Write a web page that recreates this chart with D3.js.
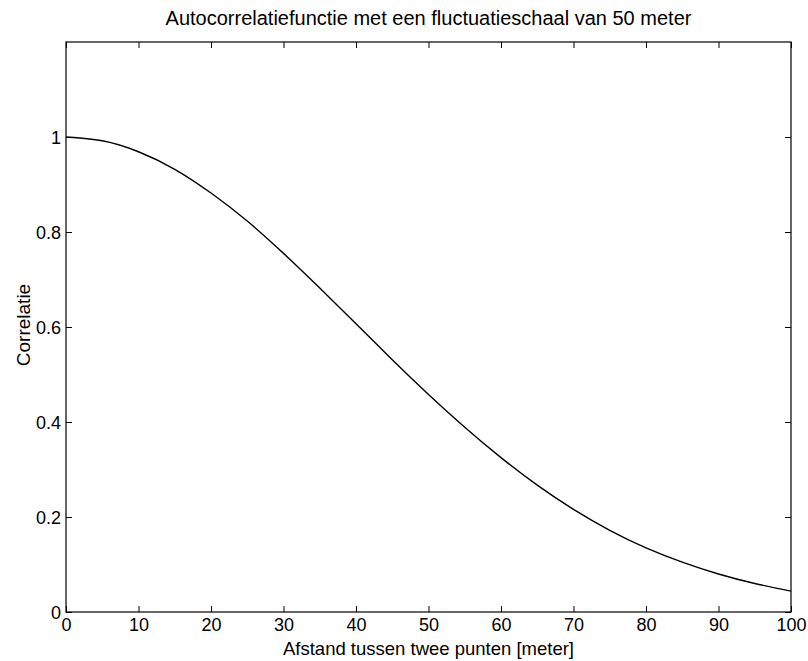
<!DOCTYPE html>
<html>
<head>
<meta charset="utf-8">
<script src="https://cdn.jsdelivr.net/npm/d3@7"></script>
<style>
  html, body { margin: 0; padding: 0; background: #fff; }
  text { font-family: "Liberation Sans", Arial, Helvetica, sans-serif; fill: #000; }
</style>
</head>
<body>
<svg id="chart" width="808" height="661"></svg>
<script>
// Distance between two points [m]
const distance = [0, 5, 10, 15, 20, 25, 30, 35, 40, 45, 50, 55, 60, 65, 70, 75, 80, 85, 90, 95, 100];
// Correlation at each distance
const correlation = [1.000, 0.992, 0.969, 0.932, 0.882, 0.823, 0.755, 0.682, 0.607, 0.531, 0.458,
                     0.389, 0.325, 0.267, 0.216, 0.172, 0.135, 0.105, 0.080, 0.060, 0.044];
const xTicks = [0, 10, 20, 30, 40, 50, 60, 70, 80, 90, 100];
const yTicks = [0, 0.2, 0.4, 0.6, 0.8, 1];

const titleText = "Autocorrelatiefunctie met een fluctuatieschaal van 50 meter";
const xLabel = "Afstand tussen twee punten [meter]";
const yLabel = "Correlatie";

const margin = { left: 66, right: 17, top: 42, bottom: 49 };
const W = 808, H = 661;
const svg = d3.select("#chart");
const iw = W - margin.left - margin.right;
const ih = H - margin.top - margin.bottom;

const x = d3.scaleLinear().domain([0, 100]).range([margin.left, margin.left + iw]);
const y = d3.scaleLinear().domain([0, 1.2]).range([margin.top + ih, margin.top]);

const tickLen = 6;
const tickFont = "18px";

// Bottom axis (ticks point inward)
const gB = svg.append("g").attr("transform", `translate(0,${margin.top + ih})`)
  .call(d3.axisBottom(x).tickValues(xTicks).tickSize(-tickLen).tickPadding(10).tickFormat(d3.format("d")));
// Top axis (ticks only)
const gT = svg.append("g").attr("transform", `translate(0,${margin.top})`)
  .call(d3.axisTop(x).tickValues(xTicks).tickSize(-tickLen).tickFormat(""));
// Left axis
const gL = svg.append("g").attr("transform", `translate(${margin.left},0)`)
  .call(d3.axisLeft(y).tickValues(yTicks).tickSize(-tickLen).tickPadding(5).tickFormat(d => d3.format("~g")(d)));
// Right axis (ticks only)
const gR = svg.append("g").attr("transform", `translate(${margin.left + iw},0)`)
  .call(d3.axisRight(y).tickValues(yTicks).tickSize(-tickLen).tickFormat(""));

[gB, gT, gL, gR].forEach(g => {
  g.select(".domain").remove();
  g.selectAll("line").attr("stroke", "#000").attr("stroke-width", 1);
  g.selectAll("text").style("font-size", tickFont).attr("fill", "#000");
});
gB.selectAll("text").attr("dy", "0.5em");
gL.selectAll("text").attr("dy", "0.35em");

// Frame
svg.append("rect")
  .attr("x", margin.left).attr("y", margin.top)
  .attr("width", iw).attr("height", ih)
  .attr("fill", "none").attr("stroke", "#000").attr("stroke-width", 1.2);

// Curve
const pts = distance.map((d, i) => [d, correlation[i]]);
svg.append("path")
  .datum(pts)
  .attr("fill", "none")
  .attr("stroke", "#000")
  .attr("stroke-width", 1.4)
  .attr("d", d3.line().x(d => x(d[0])).y(d => y(d[1])).curve(d3.curveNatural));

// Title and axis labels
svg.append("text")
  .attr("x", margin.left + iw / 2).attr("y", 25)
  .attr("text-anchor", "middle").style("font-size", "20px")
  .text(titleText);

svg.append("text")
  .attr("x", margin.left + iw / 2).attr("y", 655)
  .attr("text-anchor", "middle").style("font-size", "18.5px")
  .text(xLabel);

svg.append("text")
  .attr("transform", `translate(30,${margin.top + ih / 2 - 2}) rotate(-90)`)
  .attr("text-anchor", "middle").style("font-size", "19px")
  .text(yLabel);
</script>
</body>
</html>
